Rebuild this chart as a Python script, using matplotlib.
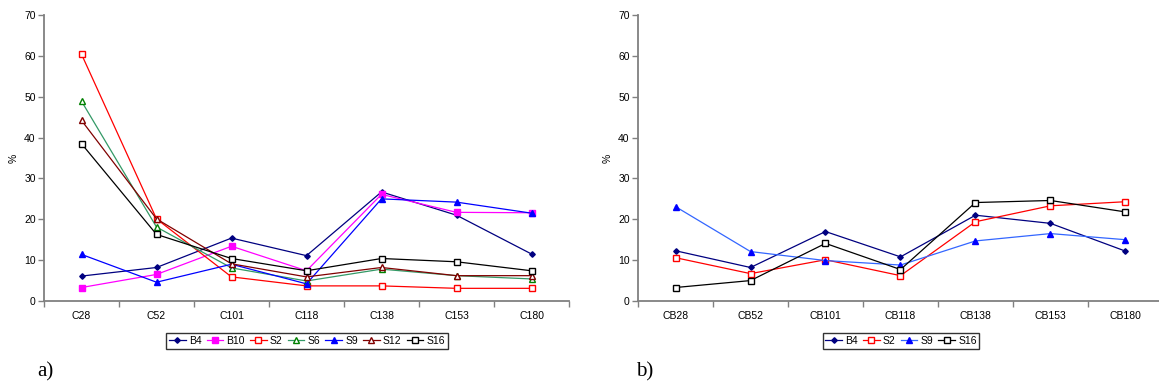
import numpy as np
import matplotlib
matplotlib.use('Agg')
import matplotlib.pyplot as plt

plt.rcParams['font.family'] = ['Liberation Sans', 'DejaVu Sans']

# panel a) congeners and samples
cats_a = ['C28', 'C52', 'C101', 'C118', 'C138', 'C153', 'C180']
B4_a = [6.1, 8.2, 15.4, 11.1, 26.7, 21.0, 11.5]
B10_a = [3.3, 6.5, 13.4, 7.4, 26.1, 21.7, 21.6]
S2_a = [60.4, 20.1, 5.9, 3.7, 3.7, 3.1, 3.1]
S6_a = [48.9, 18.1, 8.1, 4.9, 7.8, 6.2, 5.4]
S9_a = [11.4, 4.6, 9.0, 4.2, 25.0, 24.2, 21.5]
S12_a = [44.2, 20.1, 9.1, 5.9, 8.2, 6.2, 6.2]
S16_a = [38.5, 16.3, 10.4, 7.4, 10.4, 9.6, 7.4]

# panel b)
cats_b = ['CB28', 'CB52', 'CB101', 'CB118', 'CB138', 'CB153', 'CB180']
B4_b = [12.3, 8.2, 17.0, 10.8, 21.0, 19.0, 12.2]
S2_b = [10.6, 6.7, 10.1, 6.2, 19.4, 23.3, 24.3]
S9_b = [23.1, 12.1, 9.9, 8.8, 14.7, 16.5, 15.0]
S16_b = [3.3, 5.0, 14.1, 7.7, 24.1, 24.6, 21.8]

fig = plt.figure(figsize=(11.59, 3.87), dpi=100)
ax1 = fig.add_axes([44/1159, 1-301/387, 525/1159, 286/387])
ax2 = fig.add_axes([638/1159, 1-301/387, 525/1159, 286/387])


def style_axes(ax, cats):
    x = np.arange(len(cats)) + 0.5
    ax.set_xlim(0, len(cats))
    ax.set_ylim(0, 70)
    ax.set_yticks(range(0, 71, 10))
    ax.set_xticks(np.arange(len(cats) + 1))
    ax.set_xticklabels([])
    ax.set_xticks(x, minor=True)
    ax.set_xticklabels(cats, minor=True)
    ax.tick_params(axis='x', which='minor', length=0, pad=7, labelsize=7.5)
    ax.tick_params(axis='x', which='major', length=4, color='#808080', width=1)
    ax.tick_params(axis='y', length=4, color='#808080', width=1, labelsize=7.5, pad=2)
    for s in ['top', 'right']:
        ax.spines[s].set_visible(False)
    for s in ['left', 'bottom']:
        ax.spines[s].set_color('#808080')
        ax.spines[s].set_linewidth(1.3)
    ax.set_ylabel('%', fontsize=7.5, labelpad=4)
    return x


x = style_axes(ax1, cats_a)
lw = 0.9
ax1.plot(x, B4_a, color='#000080', marker='D', ms=2.8, lw=lw, label='B4')
ax1.plot(x, B10_a, color='#ff00ff', marker='s', ms=4, lw=lw, label='B10')
ax1.plot(x, S2_a, color='#ff0000', marker='s', ms=4.2, mfc='white', lw=lw, label='S2')
ax1.plot(x, S6_a, color='#339966', marker='^', ms=4, mfc='white', mec='#008000', lw=lw, label='S6')
ax1.plot(x, S9_a, color='#0000ff', marker='^', ms=4.5, lw=lw, label='S9')
ax1.plot(x, S12_a, color='#800000', marker='^', ms=4, mfc='white', lw=lw, label='S12')
ax1.plot(x, S16_a, color='#000000', marker='s', ms=4.2, mfc='white', lw=lw, label='S16')

x = style_axes(ax2, cats_b)
ax2.plot(x, B4_b, color='#000080', marker='D', ms=2.8, lw=lw, label='B4')
ax2.plot(x, S2_b, color='#ff0000', marker='s', ms=4.2, mfc='white', lw=lw, label='S2')
ax2.plot(x, S9_b, color='#3366ff', marker='^', ms=4.5, mfc='#0000ff', mec='#0000ff', lw=lw, label='S9')
ax2.plot(x, S16_b, color='#000000', marker='s', ms=4.2, mfc='white', lw=lw, label='S16')

for ax, cx in [(ax1, 307/1159), (ax2, 901/1159)]:
    leg = ax.legend(loc='center', bbox_to_anchor=(cx, 1-341/387), bbox_transform=fig.transFigure,
                    ncol=7, fontsize=7.5, frameon=True, fancybox=False, handlelength=1.6,
                    handletextpad=0.3, columnspacing=0.5, borderpad=0.25, borderaxespad=0)
    leg.get_frame().set_edgecolor('black')
    leg.get_frame().set_linewidth(1)

fig.text(37/1159, 1-372/387, 'a)', fontsize=15, family='Liberation Serif', va='center')
fig.text(636/1159, 1-372/387, 'b)', fontsize=15, family='Liberation Serif', va='center')

fig.savefig('out.png', dpi=100)
